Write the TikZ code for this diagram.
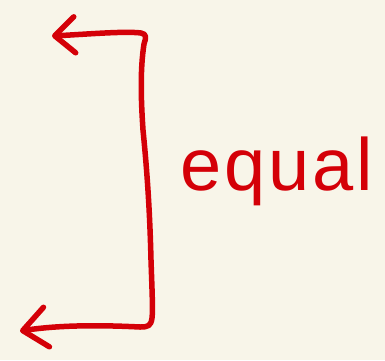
\documentclass[tikz,border=0pt]{standalone}
\usepackage{fontspec}
\setmainfont{Liberation Sans}
\usetikzlibrary{arrows.meta,positioning}
\definecolor{inkred}{RGB}{212,0,8}
\definecolor{paper}{RGB}{248,245,233}

\begin{document}
\begin{tikzpicture}[x=1pt,y=-1pt]
    % Paper
    \fill[paper] (0,0) rectangle (385,360);
    \useasboundingbox (0,0) rectangle (385,360);

    % Bracket end points
    \coordinate (topTip) at (52,36);
    \coordinate (botTip) at (20,331);

    % Bracket with both arrows
    \draw[inkred, line width=5.5pt, line cap=round, line join=round,
          {Straight Barb[round,length=20pt,width=36pt]}-{Straight Barb[round,length=24pt,width=40pt]}]
        (topTip) .. controls (90,34) and (125,31) .. (141,33)
        .. controls (147,34) and (146,38) .. (144,44)
        .. controls (140,70) and (141,100) .. (143,130)
        .. controls (148,180) and (150,220) .. (151,260)
        .. controls (152,290) and (153,310) .. (152,318)
        .. controls (151,326) and (148,327) .. (140,327)
        .. controls (100,325) and (60,325) .. (botTip);

    % Label
    \node[inkred, anchor=base west, inner sep=0pt,
          font=\fontsize{74}{74}\selectfont\addfontfeatures{LetterSpace=4}] (word) at (180,190) {equal};
\end{tikzpicture}
\end{document}
